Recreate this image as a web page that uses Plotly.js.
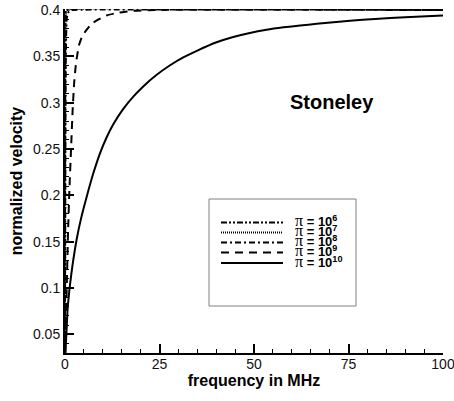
<!DOCTYPE html>
<html>
<head>
<meta charset="utf-8">
<script src="https://cdn.plot.ly/plotly-3.0.1.min.js"></script>
<style>html,body{margin:0;padding:0;background:#fff;}#plot{width:454px;height:401px;}</style>
</head>
<body>
<div id="plot"></div>
<script>
// Series data (frequency in MHz, normalized velocity)
const exponents = [6, 7, 8, 9, 10];

const f_1e6 = [0, 0.02, 0.04, 0.08, 0.15, 0.3, 100];
const v_1e6 = [0.06, 0.25, 0.35, 0.385, 0.396, 0.4, 0.4];

const f_1e7 = [0, 0.03, 0.06, 0.1, 0.2, 0.4, 0.8, 100];
const v_1e7 = [0.05, 0.2, 0.32, 0.37, 0.392, 0.398, 0.4, 0.4];

const f_1e8 = [0, 0.05, 0.1, 0.2, 0.3, 0.45, 0.7, 1.0, 1.5, 2, 100];
const v_1e8 = [0.04, 0.15, 0.26, 0.34, 0.37, 0.39, 0.396, 0.398, 0.3995, 0.4, 0.4];

const f_1e9 = [0.1, 0.4, 0.8, 1.2, 1.6, 2.0, 2.4, 2.9, 3.7, 4.6, 5.7, 7, 9, 11, 13.8, 16, 18.5, 22, 25, 100];
const v_1e9 = [0.03, 0.09, 0.16, 0.21, 0.25, 0.29, 0.32, 0.342, 0.362, 0.372, 0.3785, 0.385, 0.390, 0.394, 0.3968, 0.398, 0.399, 0.3996, 0.4, 0.4];

const f_1e10 = [0.05, 0.3, 0.7, 1.3, 2, 3.1, 4.3, 5.74, 7.49, 9.26, 11.03, 12.78, 15.42, 18.07, 20.7, 24.26, 27.8, 31.3, 35.3, 40.1, 44.5, 48.9, 53.3, 57.8, 62.2, 66.6, 71, 75.4, 82, 90, 100];
const v_1e10 = [0.03, 0.045, 0.078, 0.103, 0.125, 0.153, 0.176, 0.1986, 0.2238, 0.2454, 0.2627, 0.2767, 0.2933, 0.3065, 0.3175, 0.33, 0.3403, 0.3487, 0.3567, 0.3651, 0.3708, 0.3752, 0.3786, 0.3812, 0.3832, 0.385, 0.3867, 0.3883, 0.3903, 0.3922, 0.394];

const xTicks = [0, 25, 50, 75, 100];
const yTicks = [0.05, 0.1, 0.15, 0.2, 0.25, 0.3, 0.35, 0.4];

const seriesF = [f_1e6, f_1e7, f_1e8, f_1e9, f_1e10];
const seriesV = [v_1e6, v_1e7, v_1e8, v_1e9, v_1e10];
const dashes = ['6px,2px,2px,2px,2px,2px', '1px,1px', '6px,3px,2px,3px', '8px,6px', 'solid'];

const traces = seriesF.map((f, i) => ({
  x: f, y: seriesV[i], type: 'scatter', mode: 'lines',
  name: 'π = 10<sup>' + exponents[i] + '</sup>',
  line: {color: '#000', width: 2, dash: dashes[i], shape: 'spline', smoothing: 0.5},
  showlegend: false, hoverinfo: 'skip'
}));

// Custom legend (box + samples + labels), positioned in paper coords
const L = 65, R = 443, T = 9, B = 353;
const px = x => (x - L) / (R - L);
const py = y => (B - y) / (B - T);
const shapes = [{
  type: 'rect', xref: 'paper', yref: 'paper',
  x0: px(209), x1: px(356), y0: py(306), y1: py(199),
  line: {color: '#808080', width: 1}, fillcolor: 'rgba(0,0,0,0)'
}];
const annotations = [{
  xref: 'paper', yref: 'paper', x: px(332), y: py(102),
  text: '<b>Stoneley</b>', showarrow: false,
  font: {family: 'Arial, Liberation Sans, sans-serif', size: 20, color: '#000'},
  xanchor: 'center', yanchor: 'middle'
}];
const rows = [222.5, 232.5, 242.5, 252.5, 263];
exponents.forEach((e, i) => {
  shapes.push({
    type: 'line', xref: 'paper', yref: 'paper',
    x0: px(221), x1: px(283), y0: py(rows[i]), y1: py(rows[i]),
    line: {color: '#000', width: 2, dash: dashes[i]}
  });
  annotations.push({
    xref: 'paper', yref: 'paper', x: px(293), y: py(rows[i] - 2),
    text: '<span style="font-family:\'Liberation Serif\',serif;font-weight:normal;font-size:16px">π</span><b> = 10<sup>' + e + '</sup></b>',
    showarrow: false, xanchor: 'left', yanchor: 'middle',
    font: {family: 'Arial, Liberation Sans, sans-serif', size: 13, color: '#000'}
  });
});

const axisFont = {family: 'Arial, Liberation Sans, sans-serif', size: 14, color: '#111'};
const layout = {
  width: 454, height: 401,
  margin: {l: L, r: 454 - R, t: T, b: 401 - B, pad: 0},
  paper_bgcolor: '#fff', plot_bgcolor: '#fff',
  showlegend: false,
  xaxis: {
    range: [0, 100], tickvals: xTicks, ticktext: xTicks.map(String),
    ticks: 'inside', ticklen: 9, tickwidth: 2, tickcolor: '#000',
    showline: true, linecolor: '#000', linewidth: 2, mirror: false,
    showgrid: false, zeroline: false, tickfont: axisFont, ticklabelstandoff: -3,
    ticklabeloverflow: 'allow',
    minor: {dtick: 5, tick0: 0, ticks: 'inside', ticklen: 4, tickwidth: 1, tickcolor: '#000', showgrid: false},
    title: {text: '<b>frequency in MHz</b>', font: {family: 'Arial, Liberation Sans, sans-serif', size: 16, color: '#000'}, standoff: 4}
  },
  yaxis: {
    range: [0.03, 0.401], tickvals: yTicks, ticktext: yTicks.map(v => String(+v.toFixed(2))),
    ticks: 'inside', ticklen: 9, tickwidth: 2, tickcolor: '#000',
    showline: true, linecolor: '#000', linewidth: 2, mirror: false,
    showgrid: false, zeroline: false, tickfont: axisFont,
    minor: {dtick: 0.01, tick0: 0, ticks: 'inside', ticklen: 4, tickwidth: 1, tickcolor: '#000', showgrid: false},
    title: {text: '<b>normalized velocity</b>', font: {family: 'Arial, Liberation Sans, sans-serif', size: 16, color: '#000'}, standoff: 6}
  },
  shapes: shapes,
  annotations: annotations
};

Plotly.newPlot('plot', traces, layout, {staticPlot: true, displayModeBar: false});
</script>
</body>
</html>
